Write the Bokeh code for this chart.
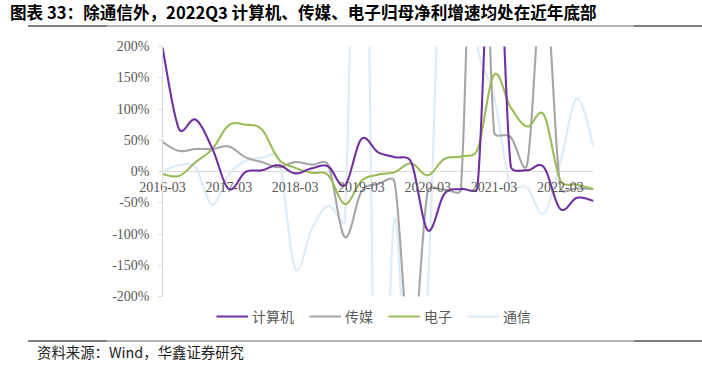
import math
from bokeh.plotting import figure
from bokeh.models import (Range1d, Legend, LegendItem, SingleIntervalTicker, FixedTicker,
                          PrintfTickFormatter, Div, Span)
from bokeh.layouts import column
from bokeh.embed import file_html
from bokeh.resources import INLINE

# ---------------- data ----------------
quarters = ["2016-03", "2016-06", "2016-09", "2016-12",
            "2017-03", "2017-06", "2017-09", "2017-12",
            "2018-03", "2018-06", "2018-09", "2018-12",
            "2019-03", "2019-06", "2019-09", "2019-12",
            "2020-03", "2020-06", "2020-09", "2020-12",
            "2021-03", "2021-06", "2021-09", "2021-12",
            "2022-03", "2022-06", "2022-09"]
x_tick_labels = ["2016-03", "2017-03", "2018-03", "2019-03", "2020-03", "2021-03", "2022-03"]

# growth, %
computer = [198, 68, 83, 37, -28, -1, 2, 10, -3, 5, 8, -22, 52, 31, 23, 15,
            -94, -36, -28, -25, 500, 10, 2, 7, -60, -42, -47]
media = [47, 33, 36, 36, 40, 23, 15, 7, 15, 11, 10, -105, -32, -20, -17, -300,
         -32, -29, -28, 700, 64, 55, 12, 320, -26, -27, -28]
electronics = [-4, -7, 15, 36, 74, 75, 67, 20, 6, -2, -6, -52, -15, -5, -1, 13,
               -6, 20, 24, 35, 155, 103, 72, 91, -14, -21, -28]
telecom = [0, 10, 6, -53, -5, 17, 22, 23, -155, -92, -55, -79, 850, -600, -74, -500,
           -190, 500, 450, 200, 120, -22, -26, -67, 15, 117, 40]

series_names = ["计算机", "传媒", "电子", "通信"]
TITLE = "图表 33：除通信外，2022Q3 计算机、传媒、电子归母净利增速均处在近年底部"
SOURCE = "资料来源：Wind，华鑫证券研究"

# ---------------- smoothing (Excel-like bezier) ----------------
PX_X = 431 / 26.0   # px per quarter
PX_Y = 250 / 400.0  # px per percent


def smooth(xs, ys, n=30):
    pts = [(x * PX_X, y * PX_Y) for x, y in zip(xs, ys)]
    N = len(pts)
    ox, oy = [], []
    for i in range(N - 1):
        p0 = pts[i - 1] if i > 0 else pts[i]
        p1 = pts[i]
        p2 = pts[i + 1]
        p3 = pts[i + 2] if i + 2 < N else pts[i + 1]
        seg = math.hypot(p2[0] - p1[0], p2[1] - p1[1])
        t1 = [(p2[0] - p0[0]) / 6.0, (p2[1] - p0[1]) / 6.0]
        t2 = [(p3[0] - p1[0]) / 6.0, (p3[1] - p1[1]) / 6.0]
        for t in (t1, t2):
            L = math.hypot(t[0], t[1])
            if L > seg / 2.0 and L > 0:
                f = (seg / 2.0) / L
                t[0] *= f
                t[1] *= f
        c1 = (p1[0] + t1[0], p1[1] + t1[1])
        c2 = (p2[0] - t2[0], p2[1] - t2[1])
        steps = n + 1 if i == N - 2 else n
        for k in range(steps):
            t = k / n
            a = (1 - t) ** 3
            b = 3 * (1 - t) ** 2 * t
            c = 3 * (1 - t) * t ** 2
            d = t ** 3
            ox.append((a * p1[0] + b * c1[0] + c * c2[0] + d * p2[0]) / PX_X)
            oy.append((a * p1[1] + b * c1[1] + c * c2[1] + d * p2[1]) / PX_Y)
    return ox, oy


xs = list(range(len(quarters)))

# ---------------- main figure ----------------
p = figure(width=702, height=278, output_backend="svg", toolbar_location=None,
           x_range=Range1d(0, len(quarters) - 1), y_range=Range1d(-200, 200),
           min_border_left=162, min_border_right=109, min_border_top=18,
           min_border_bottom=10, title=None)
p.outline_line_color = None
p.background_fill_color = "white"
p.border_fill_color = "white"
p.xgrid.visible = False
p.ygrid.visible = False

yax = p.yaxis[0]
yax.ticker = SingleIntervalTicker(interval=50)
yax.formatter = PrintfTickFormatter(format="%d%%")
yax.axis_line_color = "#d9d9d9"
yax.major_tick_line_color = "#d9d9d9"
yax.major_tick_out = 4
yax.major_tick_in = 0
yax.minor_tick_line_color = None
yax.major_label_standoff = 9
yax.major_label_text_font = "Liberation Serif"
yax.major_label_text_font_size = "14px"
yax.major_label_text_color = "#595959"

# zero line (category axis crosses at 0%)
p.add_layout(Span(location=0, dimension="width", line_color="#d9d9d9", line_width=1,
                  level="underlay"))

# category labels: bottom axis whose labels are pulled up just under the 0% line
tick_pos = [quarters.index(l) for l in x_tick_labels]
xax = p.xaxis[0]
xax.ticker = FixedTicker(ticks=tick_pos)
xax.major_label_overrides = {pos: lab for pos, lab in zip(tick_pos, x_tick_labels)}
xax.axis_line_color = None
xax.major_tick_line_color = None
xax.minor_tick_line_color = None
xax.major_tick_out = 0
xax.major_tick_in = 0
xax.major_label_standoff = -115
xax.major_label_text_font = "Liberation Serif"
xax.major_label_text_font_size = "14px"
xax.major_label_text_color = "#595959"

colors = {"计算机": "#7030A0", "传媒": "#A5A5A5", "电子": "#9BBB59", "通信": "#DDEBF7"}
data = {"计算机": computer, "传媒": media, "电子": electronics, "通信": telecom}
for name in ["通信", "传媒", "电子", "计算机"]:
    sx, sy = smooth(xs, data[name])
    p.line(sx, sy, line_color=colors[name], line_width=2.1)

# ---------------- legend strip ----------------
lg = figure(width=702, height=20, output_backend="svg", toolbar_location=None,
            x_range=Range1d(0, 1), y_range=Range1d(0, 1),
            min_border_left=0, min_border_right=0, min_border_top=0, min_border_bottom=0,
            title=None)
lg.outline_line_color = None
lg.xaxis.visible = False
lg.yaxis.visible = False
lg.xgrid.visible = False
lg.ygrid.visible = False
keys = []
for name in series_names:
    r = lg.line(x=[0], y=[0], line_color=colors[name], line_width=2.1)
    keys.append(LegendItem(label=name, renderers=[r]))
legend = Legend(items=keys, orientation="horizontal", location=(54, 0),
                glyph_width=32, glyph_height=20, label_height=20, label_standoff=4,
                spacing=15, padding=0, margin=0,
                label_text_font="Noto Sans CJK SC", label_text_font_size="14px",
                label_text_color="#595959", border_line_color=None,
                background_fill_alpha=0)
lg.add_layout(legend)

GRAD = ('background:linear-gradient(to right,#7f7f7f 0px,#7f7f7f 79px,'
        '#b3b3b3 79px,#b3b3b3 606px,#7f7f7f 606px);')
title_html = (
    '<div style="position:relative;width:702px;height:28px;">'
    '<div style="position:absolute;left:10px;top:3px;white-space:nowrap;'
    'font-family:\'Noto Sans CJK SC\';font-weight:bold;font-size:16.6px;line-height:18px;color:#000;">'
    + TITLE + '</div>'
    '<div style="position:absolute;left:28px;top:25px;width:674px;height:2px;' + GRAD + '"></div>'
    '</div>')
src_html = (
    '<div style="position:relative;width:702px;height:40px;">'
    '<div style="position:absolute;left:28px;top:14px;width:674px;height:2px;' + GRAD + '"></div>'
    '<div style="position:absolute;left:37px;top:18px;white-space:nowrap;'
    'font-family:\'Noto Sans CJK SC\';font-size:14.4px;line-height:16px;color:#222;">'
    + SOURCE + '</div>'
    '</div>')

title_div = Div(text=title_html, width=702, height=28, margin=0)
src_div = Div(text=src_html, width=702, height=40, margin=0)

layout = column(title_div, p, lg, src_div, spacing=0, margin=0)

open("out.html", "w").write(file_html(layout, INLINE))
